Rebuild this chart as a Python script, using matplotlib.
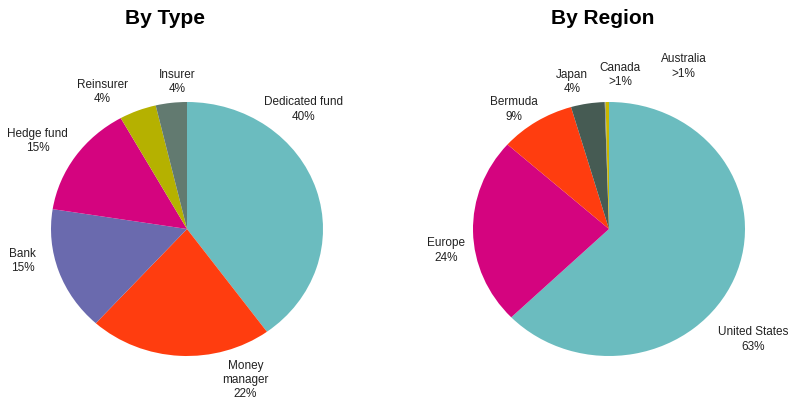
import matplotlib.pyplot as plt
import numpy as np

plt.rcParams['font.family'] = ['Liberation Sans', 'DejaVu Sans']

# By Type
type_names = ["Dedicated fund", "Money\nmanager", "Bank", "Hedge fund", "Reinsurer", "Insurer"]
type_pct = ["40%", "22%", "15%", "15%", "4%", "4%"]
type_vals = [40, 21.7, 15.8, 14.4, 4.4, 3.7]
type_cols = ["#6bbcbf", "#ff3d0f", "#6a6aae", "#d4047f", "#b5b100", "#627a70"]

# By Region
reg_names = ["United States", "Europe", "Bermuda", "Japan", "Canada", "Australia"]
reg_pct = ["63%", "24%", "9%", "4%", ">1%", ">1%"]
reg_vals = [62.7, 23.8, 8.9, 4.0, 0.1, 0.4]
reg_cols = ["#6bbcbf", "#d4047f", "#ff3d0f", "#465b53", "#8a8a8a", "#c9b800"]

# label offsets from pie centre, in radius units (x right, y up)
type_lab = [(0.86, 0.94), (0.43, -1.19), (-1.21, -0.25), (-1.10, 0.69), (-0.62, 1.08), (-0.07, 1.16)]
reg_lab = [(1.06, -0.87), (-1.20, -0.17), (-0.70, 0.94), (-0.27, 1.16), (0.08, 1.21), (0.55, 1.28)]

W, H = 794, 403
fig = plt.figure(figsize=(W / 100, H / 100), dpi=100)
RX, RY = 136, 127


def draw(cx, cy, vals, cols, names, pcts, labs, title, tx):
    ax = fig.add_axes([(cx - RX) / W, (H - cy - RY) / H, 2 * RX / W, 2 * RY / H])
    ax.pie(vals, colors=cols, startangle=90, counterclock=False,
           wedgeprops=dict(linewidth=0))
    ax.set_xlim(-1, 1)
    ax.set_ylim(-1, 1)
    ax.set_aspect('auto')
    ax.axis('off')
    for n, p, (dx, dy) in zip(names, pcts, labs):
        ax.text(dx, dy, n + "\n" + p, ha='center', va='center', fontsize=8.5,
                color='#222222', linespacing=1.25, clip_on=False)
    fig.text(tx / W, 1 - 18 / H, title, ha='center', va='center',
             fontsize=15, fontweight='bold', color='black')


draw(187, 229, type_vals, type_cols, type_names, type_pct, type_lab, "By Type", 165)
draw(609, 229, reg_vals, reg_cols, reg_names, reg_pct, reg_lab, "By Region", 603)

fig.savefig("out.png", dpi=100)
